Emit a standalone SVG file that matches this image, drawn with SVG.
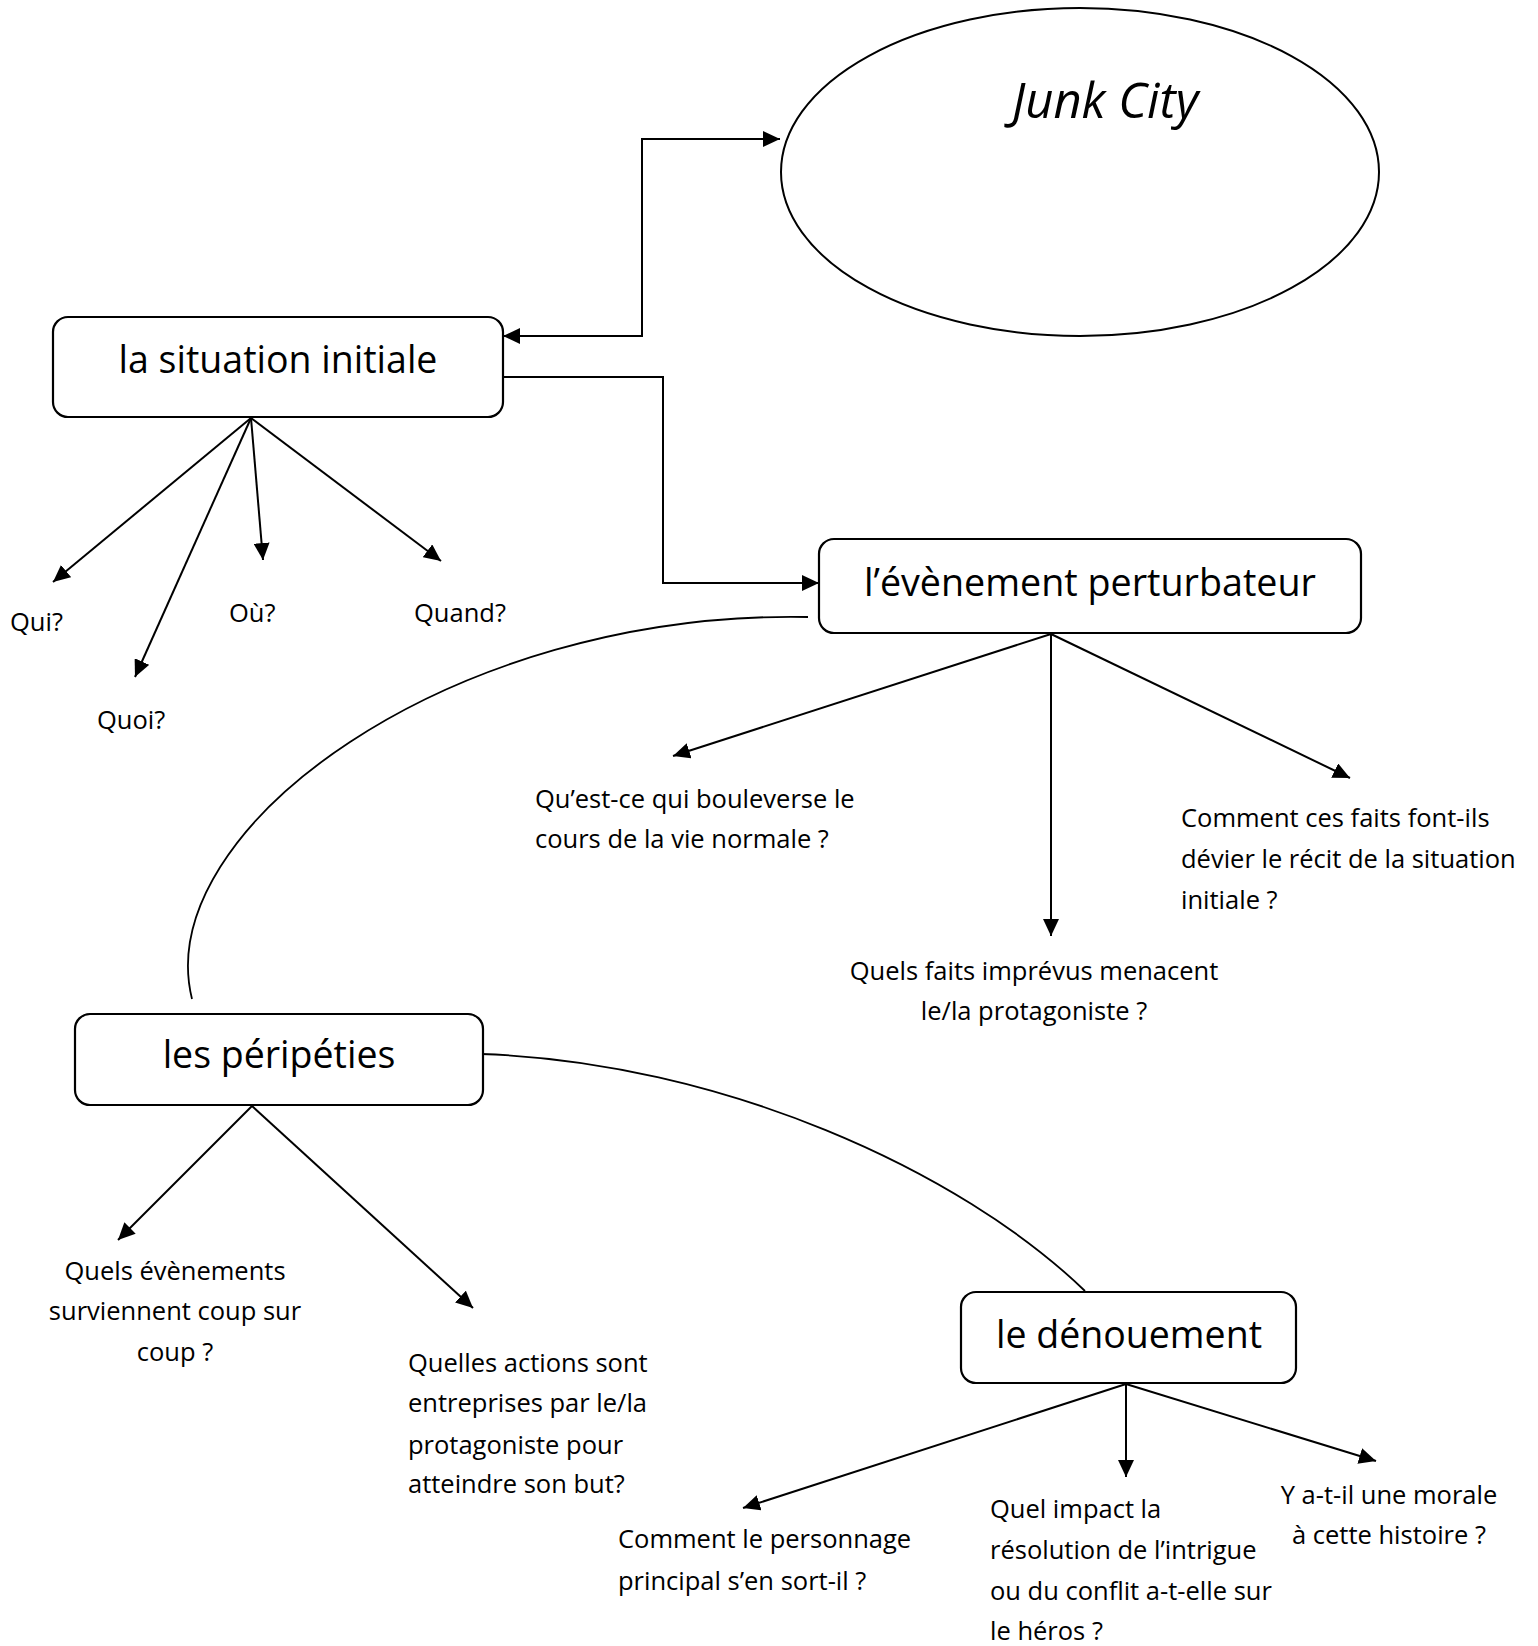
<svg xmlns="http://www.w3.org/2000/svg" width="1538" height="1646" viewBox="0 0 1538 1646">
<style>
.box{fill:#fff;stroke:#000;stroke-width:2.2}
.ell{fill:#fff;stroke:#000;stroke-width:2}
.ln{fill:none;stroke:#000;stroke-width:2}
.cv{fill:none;stroke:#000;stroke-width:1.8}
.t{font-family:"Open Sans","Liberation Sans",sans-serif;font-size:25.5px;fill:#000}
.h{font-family:"Open Sans","Liberation Sans",sans-serif;font-size:37.5px;fill:#000}
.c{text-anchor:middle}
.jc{font-family:"Open Sans","Liberation Sans",sans-serif;font-style:italic;font-size:49px;fill:#000}
</style>
<defs>
<marker id="ah" markerUnits="userSpaceOnUse" markerWidth="18" markerHeight="16" refX="17" refY="8" orient="auto-start-reverse">
<path d="M0,0 L17,8 L0,16 z" fill="#000"/>
</marker>
</defs>
<rect width="1538" height="1646" fill="#fff"/>

<g id="connectors">
<path class="ln" d="M503,336 H642 V139 H780" marker-start="url(#ah)" marker-end="url(#ah)"/>
<path class="ln" d="M503,377 H663 V583 H819" marker-end="url(#ah)"/>
<line class="ln" x1="251" y1="418" x2="53" y2="582" marker-end="url(#ah)"/>
<line class="ln" x1="251" y1="418" x2="135" y2="677" marker-end="url(#ah)"/>
<line class="ln" x1="251" y1="418" x2="263" y2="560" marker-end="url(#ah)"/>
<line class="ln" x1="251" y1="418" x2="441" y2="561" marker-end="url(#ah)"/>
<line class="ln" x1="1051" y1="634" x2="673" y2="756" marker-end="url(#ah)"/>
<line class="ln" x1="1051" y1="634" x2="1051" y2="936" marker-end="url(#ah)"/>
<line class="ln" x1="1051" y1="634" x2="1350" y2="778" marker-end="url(#ah)"/>
<path class="cv" d="M808,617 C450,610 150,830 192,999"/>
<path class="cv" d="M481,1054 C720,1062 960,1170 1085,1291"/>
<line class="ln" x1="252" y1="1106" x2="118" y2="1240" marker-end="url(#ah)"/>
<line class="ln" x1="252" y1="1106" x2="473" y2="1308" marker-end="url(#ah)"/>
<line class="ln" x1="1126" y1="1384" x2="743" y2="1508" marker-end="url(#ah)"/>
<line class="ln" x1="1126" y1="1384" x2="1126" y2="1477" marker-end="url(#ah)"/>
<line class="ln" x1="1126" y1="1384" x2="1376" y2="1461" marker-end="url(#ah)"/>
</g>

<g id="junk-city">
<ellipse class="ell" cx="1080" cy="172" rx="299" ry="164"/>
<text class="jc" x="1012" y="118">Junk City</text>
</g>

<g id="situation-initiale">
<rect class="box" x="53" y="317" width="450" height="100" rx="15"/>
<text class="h c" x="278" y="373">la situation initiale</text>
</g>

<g id="qui"><text class="t" x="10" y="631">Qui?</text></g>
<g id="quoi"><text class="t" x="97" y="729">Quoi?</text></g>
<g id="ou"><text class="t" x="229" y="622">Où?</text></g>
<g id="quand"><text class="t" x="414" y="622">Quand?</text></g>

<g id="evenement-perturbateur">
<rect class="box" x="819" y="539" width="542" height="94" rx="15"/>
<text class="h c" x="1090" y="596" textLength="452" lengthAdjust="spacingAndGlyphs">l’évènement perturbateur</text>
</g>

<g id="q-bouleverse">
<text class="t" x="535" y="808">Qu’est-ce qui bouleverse le<tspan x="535" y="848">cours de la vie normale ?</tspan></text>
</g>
<g id="q-faits-imprevus">
<text class="t c" x="1034" y="980">Quels faits imprévus menacent<tspan x="1034" y="1020">le/la protagoniste ?</tspan></text>
</g>
<g id="q-devier">
<text class="t" x="1181" y="827">Comment ces faits font-ils<tspan x="1181" y="868">dévier le récit de la situation</tspan><tspan x="1181" y="909">initiale ?</tspan></text>
</g>

<g id="peripeties">
<rect class="box" x="75" y="1014" width="408" height="91" rx="15"/>
<text class="h c" x="279" y="1068">les péripéties</text>
</g>

<g id="q-evenements">
<text class="t c" x="175" y="1280">Quels évènements<tspan x="175" y="1320">surviennent coup sur</tspan><tspan x="175" y="1361">coup ?</tspan></text>
</g>
<g id="q-actions">
<text class="t" x="408" y="1372">Quelles actions sont<tspan x="408" y="1412">entreprises par le/la</tspan><tspan x="408" y="1454">protagoniste pour</tspan><tspan x="408" y="1493">atteindre son but?</tspan></text>
</g>

<g id="denouement">
<rect class="box" x="961" y="1292" width="335" height="91" rx="15"/>
<text class="h c" x="1129" y="1348">le dénouement</text>
</g>

<g id="q-personnage">
<text class="t" x="618" y="1548">Comment le personnage<tspan x="618" y="1590">principal s’en sort-il ?</tspan></text>
</g>
<g id="q-impact">
<text class="t" x="990" y="1518">Quel impact la<tspan x="990" y="1559">résolution de l’intrigue</tspan><tspan x="990" y="1600">ou du conflit a-t-elle sur</tspan><tspan x="990" y="1640">le héros ?</tspan></text>
</g>
<g id="q-morale">
<text class="t c" x="1389" y="1504">Y a-t-il une morale<tspan x="1389" y="1544">à cette histoire ?</tspan></text>
</g>
</svg>
